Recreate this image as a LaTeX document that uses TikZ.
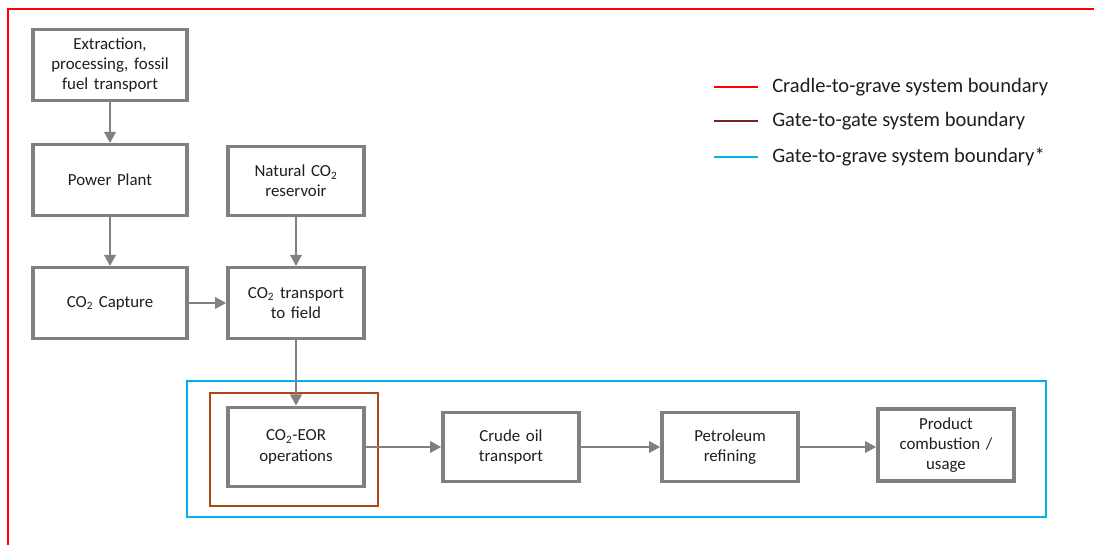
\documentclass[tikz,border=0pt]{standalone}
\usepackage{fontspec}
\setmainfont{Carlito}
\usepackage{xcolor}
\usetikzlibrary{arrows.meta}
\definecolor{boxgray}{RGB}{128,128,128}
\definecolor{cradlered}{RGB}{255,0,0}
\definecolor{gatebrown}{RGB}{170,72,22}
\definecolor{legbrown}{RGB}{122,34,34}
\definecolor{graveblue}{RGB}{0,176,240}
\definecolor{txtgray}{RGB}{30,30,30}
\tikzstyle{stage} = [rectangle, draw=boxgray, line width=2.4pt, text width=3.4cm, align=center, inner sep=0pt, text=txtgray, font=\fontsize{12}{14.5}\selectfont]
\tikzstyle{flow} = [draw=boxgray, line width=2pt, -{Triangle[length=8pt,width=8pt]}]
\tikzstyle{legtext} = [anchor=west, inner sep=0pt, text=txtgray, font=\fontsize{14.6}{17}\selectfont]
\tikzstyle{legline} = [line width=1.6pt]

\begin{document}
\begin{tikzpicture}[x=0.025cm, y=-0.025cm]
\useasboundingbox (0,0) rectangle (1094,545);

% system boundaries
\draw [cradlered, line width=1.6pt] (8,545) -- (8,9) -- (1094,9);
\draw [graveblue, line width=1.6pt] (187,381) rectangle (1046,517);
\draw [gatebrown, line width=1.6pt] (210,393) rectangle (378,506);

% upstream
\node (extr) [stage, minimum width=3.85cm, minimum height=1.76cm] at (110,65) {Extraction,\\processing, fossil\\fuel transport};
\node (power) [stage, minimum width=3.85cm, minimum height=1.76cm] at (110,180) {Power Plant};
\node (natural) [stage, minimum width=3.3cm, minimum height=1.74cm] at (296,181) {Natural CO\textsubscript{2}\\reservoir};
\node (capture) [stage, minimum width=3.85cm, minimum height=1.76cm] at (110,303) {CO\textsubscript{2} Capture};
\node (transp) [stage, minimum width=3.35cm, minimum height=1.76cm] at (296,303) {CO\textsubscript{2} transport\\to field};

% downstream
\node (eor) [stage, minimum width=3.3cm, minimum height=1.98cm] at (296,447) {CO\textsubscript{2}-EOR\\operations};
\node (crude) [stage, minimum width=3.35cm, minimum height=1.72cm] at (511,447) {Crude oil\\transport};
\node (refin) [stage, minimum width=3.35cm, minimum height=1.72cm] at (730,447) {Petroleum\\refining};
\node (product) [stage, minimum width=3.35cm, minimum height=1.8cm] at (946,445) {Product\\combustion /\\usage};

\draw [flow] (extr) -- (power);
\draw [flow] (power) -- (capture);
\draw [flow] (natural) -- (transp);
\draw [flow] (capture) -- (transp);
\draw [flow] (transp) -- (eor);
\draw [flow] (eor) -- (crude);
\draw [flow] (crude) -- (refin);
\draw [flow] (refin.east) -- (refin.east -| product.west);

% legend
\node (lgcradle) [legtext] at (772,87) {Cradle-to-grave system boundary};
\node (lggate) [legtext] at (772,121) {Gate-to-gate system boundary};
\node (lggrave) [legtext] at (772,157) {Gate-to-grave system boundary*};
\draw [legline, cradlered] ([xshift=-10]lgcradle.west) -- ++(-44,0);
\draw [legline, legbrown] ([xshift=-10]lggate.west) -- ++(-44,0);
\draw [legline, graveblue] ([xshift=-10]lggrave.west) -- ++(-44,0);
\end{tikzpicture}
\end{document}
